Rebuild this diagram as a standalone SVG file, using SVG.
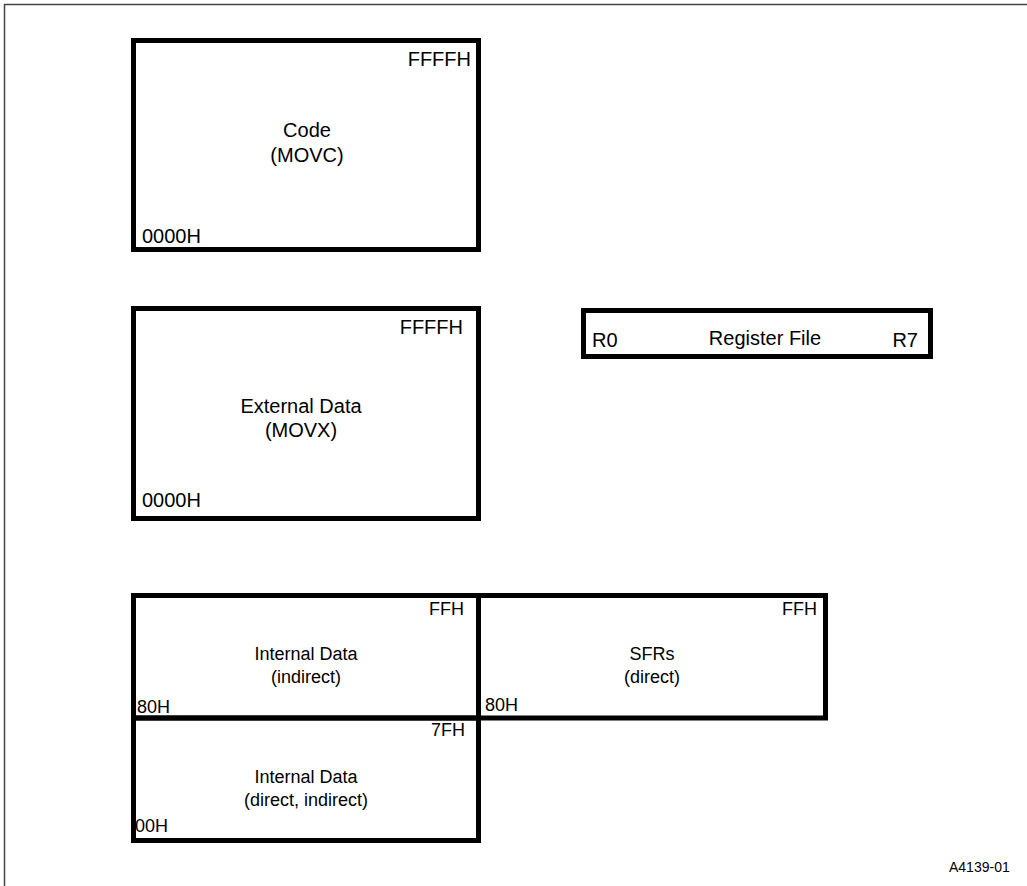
<svg xmlns="http://www.w3.org/2000/svg" width="1027" height="886" viewBox="0 0 1027 886">
<style>
.box{fill:none;stroke:#000;stroke-width:5}
.frame{fill:none;stroke:#444;stroke-width:1.5}
text{font-family:"Liberation Sans",Arial,sans-serif;font-size:20px;fill:#000}
.s{font-size:18px}
.c{text-anchor:middle}
.e{text-anchor:end}
.tag{font-size:14px}
</style>
<rect width="1027" height="886" fill="#fff"/>
<path class="frame" d="M4.5,886 V4.5 H1027"/>
<g id="code">
<rect class="box" x="133.5" y="40.5" width="345" height="209"/>
<text class="e" x="471" y="66">FFFFH</text>
<text class="c" x="307" y="137">Code</text>
<text class="c" x="307" y="162">(MOVC)</text>
<text x="142" y="243">0000H</text>
</g>
<g id="external">
<rect class="box" x="133.5" y="308.5" width="345" height="210"/>
<text class="e" x="463" y="334">FFFFH</text>
<text class="c" x="301" y="413">External Data</text>
<text class="c" x="301" y="437">(MOVX)</text>
<text x="142" y="507">0000H</text>
</g>
<g id="register">
<rect class="box" x="583.5" y="310.5" width="347" height="46"/>
<text x="592" y="347">R0</text>
<text class="c" x="765" y="345">Register File</text>
<text class="e" x="918" y="347">R7</text>
</g>
<g id="internal-indirect">
<rect class="box" x="133.5" y="595.5" width="345" height="122.5"/>
<text class="s e" x="464" y="615">FFH</text>
<text class="s c" x="306" y="660">Internal Data</text>
<text class="s c" x="306" y="683">(indirect)</text>
<text class="s" x="137" y="713">80H</text>
</g>
<g id="sfrs">
<rect class="box" x="478.5" y="595.5" width="347" height="122.5"/>
<text class="s e" x="817" y="615">FFH</text>
<text class="s c" x="652" y="660">SFRs</text>
<text class="s c" x="652" y="683">(direct)</text>
<text class="s" x="485" y="711">80H</text>
</g>
<g id="internal-direct">
<rect class="box" x="133.5" y="718" width="345" height="122.5"/>
<text class="s e" x="465" y="736">7FH</text>
<text class="s c" x="306" y="783">Internal Data</text>
<text class="s c" x="306" y="806">(direct, indirect)</text>
<text class="s" x="135" y="832">00H</text>
</g>
<g id="connectors"></g>
<text class="tag" x="949" y="872">A4139-01</text>
</svg>
